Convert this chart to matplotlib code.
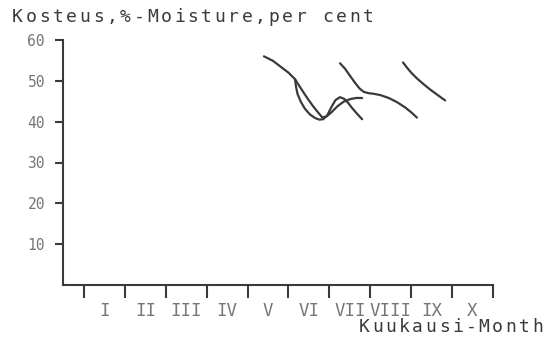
import numpy as np
import matplotlib.pyplot as plt

W, H, DPI = 555, 340, 100
INK = '#3a3a3a'
GREY = '#767676'
MONO = 'DejaVu Sans Mono'

# Month axis: boundaries at 0..10, month I spans 0..1 etc.
months = ['I', 'II', 'III', 'IV', 'V', 'VI', 'VII', 'VIII', 'IX', 'X']
yticks = [10, 20, 30, 40, 50, 60]

# Moisture curves (month position, per cent)
a_x = [4.40, 4.62, 4.79, 5.00, 5.16, 5.30, 5.45, 5.60, 5.72, 5.82, 5.92, 6.05, 6.20, 6.35, 6.50, 6.65, 6.80]
a_y = [56.0, 54.9, 53.6, 52.0, 50.4, 48.2, 45.9, 43.8, 42.3, 41.1, 41.2, 42.3, 43.8, 44.9, 45.5, 45.8, 45.8]

b_x = [5.16, 5.18, 5.22, 5.30, 5.40, 5.52, 5.65, 5.75, 5.85, 5.95, 6.05, 6.15, 6.26, 6.36, 6.45, 6.55, 6.68, 6.80]
b_y = [50.4, 48.8, 46.8, 44.9, 43.2, 41.8, 40.9, 40.5, 40.6, 41.6, 43.6, 45.3, 46.0, 45.6, 44.7, 43.4, 41.9, 40.6]

c_x = [6.26, 6.38, 6.50, 6.62, 6.74, 6.84, 6.95, 7.10, 7.25, 7.45, 7.65, 7.85, 8.00, 8.14]
c_y = [54.3, 53.0, 51.3, 49.6, 48.1, 47.3, 47.0, 46.8, 46.5, 45.8, 44.8, 43.5, 42.3, 41.0]

d_x = [7.80, 7.90, 8.00, 8.14, 8.30, 8.46, 8.65, 8.83]
d_y = [54.5, 53.2, 52.0, 50.6, 49.2, 47.9, 46.5, 45.2]

fig = plt.figure(figsize=(W / DPI, H / DPI), dpi=DPI)
fig.patch.set_facecolor('white')

# axes box in pixels: left spine x=63, right end x=493, top y=40, bottom y=285
ax = fig.add_axes([63 / W, (H - 285) / H, 430 / W, 245 / H])
ax.set_xlim(-0.513, 10)
ax.set_ylim(0, 60)

for xs, ys in [(a_x, a_y), (b_x, b_y), (c_x, c_y), (d_x, d_y)]:
    ax.plot(xs, ys, color=INK, lw=1.6, solid_capstyle='round', solid_joinstyle='round')

for side in ['top', 'right']:
    ax.spines[side].set_visible(False)
for side in ['left', 'bottom']:
    ax.spines[side].set_color(INK)
    ax.spines[side].set_linewidth(1.5)

ax.set_yticks(yticks)
ax.set_yticklabels([str(v) for v in yticks])
ax.tick_params(axis='y', direction='out', length=6, width=1.5, color=INK,
               labelcolor=GREY, labelsize=10.5, pad=7)

ax.set_xticks(np.arange(0, 11))
ax.set_xticklabels([])
ax.set_xticks(np.arange(len(months)) + 0.5, minor=True)
ax.set_xticklabels(months, minor=True)
ax.tick_params(axis='x', which='major', direction='out', length=9, width=1.5, color=INK)
ax.tick_params(axis='x', which='minor', length=0, labelcolor=GREY, labelsize=12.5, pad=12)

for lab in ax.get_xticklabels(minor=True) + ax.get_yticklabels():
    lab.set_family(MONO)


def spaced_text(x0, y0, s, pitch, **kw):
    # plotter-style lettering with a fixed, wide character pitch (pixel coords)
    for i, ch in enumerate(s):
        fig.text((x0 + i * pitch) / W, 1 - y0 / H, ch, ha='left', va='baseline',
                 family=MONO, **kw)


spaced_text(12, 22, 'Kosteus,%-Moisture,per cent', 13.5, fontsize=13, color=INK)
spaced_text(359, 332, 'Kuukausi-Month', 13.3, fontsize=13, color=INK)

fig.savefig('out.png', dpi=DPI)
